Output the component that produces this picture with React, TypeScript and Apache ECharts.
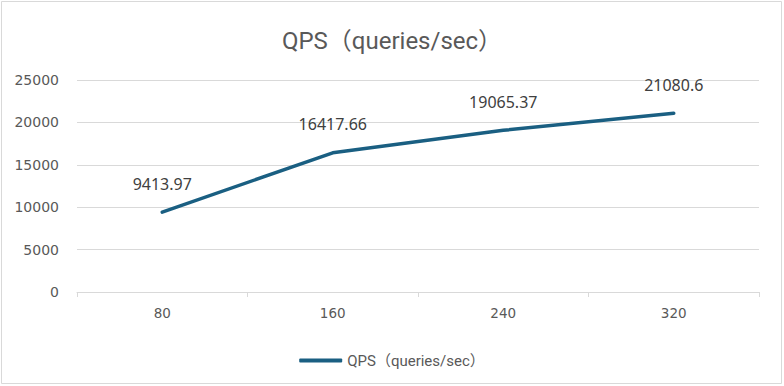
import React, { useEffect, useRef } from "react";
import * as echarts from "echarts";

const categories = ["80", "160", "240", "320"];
const qpsValues = [9413.97, 16417.66, 19065.37, 21080.6];
const seriesName = "QPS（queries/sec）";
const titleText = "QPS（queries/sec）";

export default function App() {
  const ref = useRef<HTMLDivElement>(null);
  useEffect(() => {
    document.body.style.margin = "0";
    const chart = echarts.init(ref.current!, null, { renderer: "svg" });
    const roboto = "Roboto, 'Noto Sans CJK SC', sans-serif";
    const axisFont = "'DejaVu Sans', sans-serif";
    const labelFont = "'Noto Sans', sans-serif";
    const lineColor = "#1a5f82";
    chart.setOption({
      animation: false,
      backgroundColor: "#ffffff",
      textStyle: { fontFamily: roboto },
      title: {
        text: titleText,
        left: "center",
        top: 24,
        textStyle: { fontSize: 24, fontWeight: "normal", color: "#595959", fontFamily: roboto },
      },
      graphic: [
        {
          type: "rect",
          shape: { x: 1.5, y: 1.5, width: 780, height: 382 },
          style: { fill: "none", stroke: "#d9d9d9", lineWidth: 1 },
          silent: true,
        },
      ],
      legend: {
        top: 348,
        left: "center",
        itemWidth: 43,
        itemHeight: 4,
        textStyle: { fontSize: 15, color: "#595959", fontFamily: roboto },
        data: [{ name: seriesName, icon: "roundRect" }],
      },
      grid: { left: 77, right: 25, top: 80, bottom: 94, containLabel: false },
      xAxis: {
        type: "category",
        data: categories,
        boundaryGap: true,
        axisLine: { lineStyle: { color: "#d9d9d9", width: 1 } },
        axisTick: { show: true, alignWithLabel: false, length: 5, lineStyle: { color: "#d9d9d9" } },
        axisLabel: { fontSize: 13.5, color: "#595959", margin: 14, fontFamily: axisFont },
      },
      yAxis: {
        type: "value",
        min: 0,
        max: 25000,
        interval: 5000,
        axisLine: { show: false },
        axisTick: { show: false },
        axisLabel: {
          fontSize: 14,
          color: "#595959",
          margin: 18,
          fontFamily: axisFont,
          formatter: (v: number) => String(v),
        },
        splitLine: { lineStyle: { color: "#d9d9d9", width: 1 } },
      },
      series: [
        {
          name: seriesName,
          type: "line",
          data: qpsValues,
          symbol: "circle",
          symbolSize: 1,
          showSymbol: true,
          lineStyle: { color: lineColor, width: 3.5, cap: "round", join: "round" },
          itemStyle: { color: lineColor },
          label: {
            show: true,
            position: "top",
            distance: 20,
            fontSize: 16,
            color: "#404040",
            fontFamily: labelFont,
            formatter: (p: any) => String(p.value),
          },
        },
      ],
    });
    return () => chart.dispose();
  }, []);
  return <div ref={ref} style={{ width: 784, height: 386 }} />;
}
